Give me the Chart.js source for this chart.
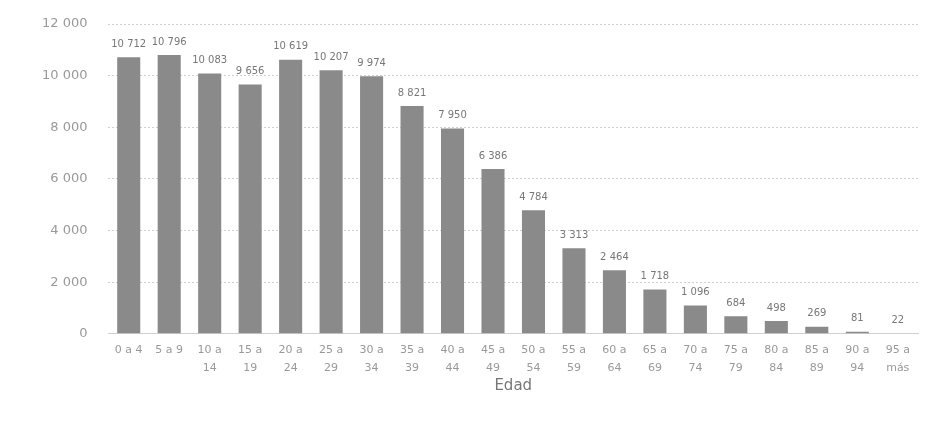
<!DOCTYPE html>
<html>
<head>
<meta charset="utf-8">
<script src="https://cdn.jsdelivr.net/npm/chart.js@4/dist/chart.umd.min.js"></script>
<style>
  html, body { margin: 0; padding: 0; background: #fff; }
  #wrap { width: 928px; height: 421px; }
</style>
</head>
<body>
<div id="wrap"><canvas id="bar-chart"></canvas></div>
<script>
const categories = [
  "0 a 4", "5 a 9", ["10 a", "14"], ["15 a", "19"], ["20 a", "24"],
  ["25 a", "29"], ["30 a", "34"], ["35 a", "39"], ["40 a", "44"], ["45 a", "49"],
  ["50 a", "54"], ["55 a", "59"], ["60 a", "64"], ["65 a", "69"], ["70 a", "74"],
  ["75 a", "79"], ["80 a", "84"], ["85 a", "89"], ["90 a", "94"], ["95 a", "más"]
];
const population = [
  10712, 10796, 10083, 9656, 10619, 10207, 9974, 8821, 7950, 6386,
  4784, 3313, 2464, 1718, 1096, 684, 498, 269, 81, 22
];
const yTicks = [0, 2000, 4000, 6000, 8000, 10000, 12000];

const fmt = (v) => String(v).replace(/\B(?=(\d{3})+(?!\d))/g, " ");

// value labels above bars
const valueLabels = {
  id: "valueLabels",
  afterDatasetsDraw(chart) {
    const ctx = chart.ctx;
    const meta = chart.getDatasetMeta(0);
    ctx.save();
    ctx.font = "10px 'DejaVu Sans'";
    ctx.fillStyle = "#777";
    ctx.textAlign = "center";
    ctx.textBaseline = "bottom";
    meta.data.forEach((bar, i) => {
      ctx.fillText(fmt(population[i]), bar.x, bar.y - 8);
    });
    ctx.restore();
  },
};

new Chart(document.getElementById("bar-chart"), {
  type: "bar",
  data: {
    labels: categories,
    datasets: [
      {
        data: population,
        backgroundColor: "#8a8a8a",
        barPercentage: 0.57,
        categoryPercentage: 1.0,
      },
    ],
  },
  options: {
    responsive: true,
    maintainAspectRatio: false,
    animation: false,
    layout: { padding: { left: 21, right: 10, top: 24, bottom: 22 } },
    plugins: {
      legend: { display: false },
      tooltip: { enabled: false },
    },
    scales: {
      x: {
        grid: { display: false },
        border: { color: "#cfcfcf", dash: [2, 2] },
        ticks: {
          color: "#999",
          font: { family: "DejaVu Sans", size: 11, lineHeight: 1.6 },
          maxRotation: 0,
          autoSkip: false,
          padding: 0,
        },
        title: {
          display: true,
          text: "Edad",
          color: "#777",
          font: { family: "DejaVu Sans", size: 15 },
          padding: { top: 0 },
        },
      },
      y: {
        min: 0,
        max: 12000,
        afterBuildTicks: (axis) => {
          axis.ticks = yTicks.map((v) => ({ value: v }));
        },
        afterFit: (axis) => {
          // tick padding should only push labels sideways
          axis.paddingTop = 8;
        },
        grid: { color: "#cfcfcf", borderDash: [2, 2], drawTicks: false },
        border: { display: false, dash: [2, 2] },
        ticks: {
          color: "#999",
          font: { family: "DejaVu Sans", size: 13 },
          padding: 21,
          callback: (v) => fmt(v),
        },
      },
    },
  },
  plugins: [valueLabels],
});
</script>
</body>
</html>
